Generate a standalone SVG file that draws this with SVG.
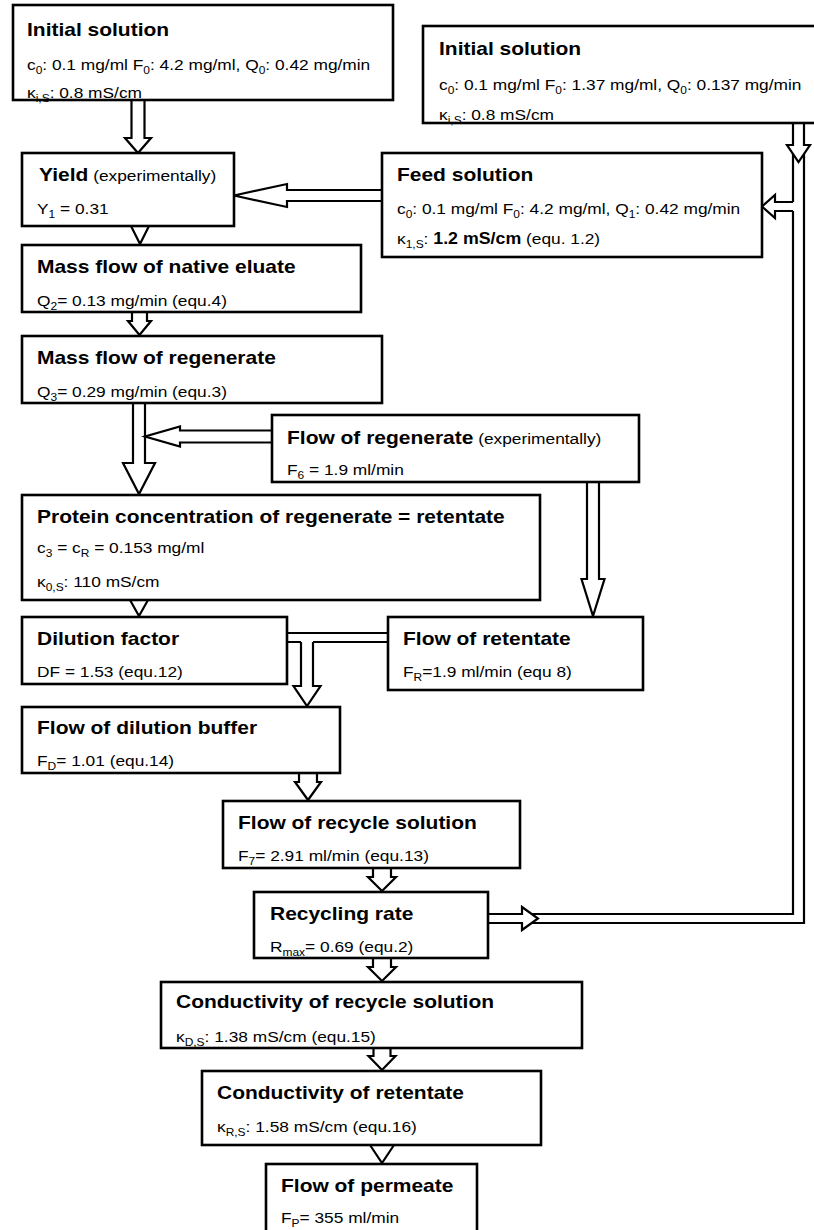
<svg xmlns="http://www.w3.org/2000/svg" width="814" height="1230" viewBox="0 0 814 1230">
<style>
.bx{fill:#fff;stroke:#000;stroke-width:2.6}
.ar{fill:#fff;stroke:#000;stroke-width:2.2;stroke-linejoin:miter}
.ln{fill:none;stroke:#000;stroke-width:2.2;stroke-linejoin:miter}
.h{font-family:"Liberation Sans",Arial,sans-serif;font-weight:bold;font-size:18.4px;fill:#000}
.n{font-family:"Liberation Sans",Arial,sans-serif;font-size:15.2px;fill:#000}
.s{font-size:10.5px}
.b{font-weight:bold;font-size:15.6px}
.r{font-weight:normal;font-size:15.2px}
</style>
<rect width="814" height="1230" fill="#fff"/>
<g id="connectors">
  <!-- Initial -> Yield -->
  <path class="ar" d="M131.5,100 V138 H125 L138,153 L151,138 H144.5 V100"/>
  <!-- Yield -> Mass flow native -->
  <path class="ar" d="M131,226 L140,244 L149,226"/>
  <!-- Feed -> Yield -->
  <path class="ar" d="M382,190 H287 V184 L234,195.5 L287,207 V201 H382"/>
  <!-- native -> regenerate -->
  <path class="ar" d="M132,312 V321 H128 L139.5,335 L151,321 H147 V312"/>
  <!-- regenerate -> protein -->
  <path class="ar" d="M133,403 V463 H123 L139,494 L155,463 H145 V403"/>
  <!-- flow of regenerate -> shaft -->
  <path class="ar" d="M272,430.5 H180 V426.5 L145,436.5 L180,446.5 V442.5 H272"/>
  <!-- flow of regenerate -> flow of retentate -->
  <path class="ar" d="M587,482 V579 H581.5 L593,616 L604.5,579 H599 V482"/>
  <!-- protein -> dilution -->
  <path class="ar" d="M130,600 L139,616 L148,600"/>
  <!-- retentate -> dilution / down -->
  <path class="ln" d="M287,633 H388"/>
  <path class="ln" d="M287,642 H301 M313,642 H388"/>
  <path class="ar" d="M301,642 V686 H293.5 L307,706 L320.5,686 H313 V642"/>
  <!-- dilution buffer -> recycle -->
  <path class="ar" d="M299,773 V782 H295 L308,800 L321,782 H317 V773"/>
  <!-- recycle -> rate -->
  <path class="ar" d="M373,868 V877 H368 L382,891 L396,877 H391 V868"/>
  <!-- rate -> cond recycle -->
  <path class="ar" d="M373,958 V967 H368 L382,981 L396,967 H391 V958"/>
  <!-- cond recycle -> cond retentate -->
  <path class="ar" d="M373.5,1048 V1056 H368.5 L382,1070 L395.5,1056 H390.5 V1048"/>
  <!-- cond retentate -> permeate -->
  <path class="ar" d="M370,1145 L382,1163 L394,1145"/>
  <!-- right column -->
  <path class="ln" d="M793,150 V202 M793,211 V914 H530"/>
  <path class="ln" d="M804,150 V923 H530"/>
  <path class="ar" d="M793,123 V145 H787 L798.5,162 L810,145 H804 V123"/>
  <path class="ar" d="M793,202 H775 V195 L762,206.5 L775,218 V211 H793"/>
  <path class="ar" d="M488,914 H522 V907 L538,918.5 L522,930 V923 H488"/>
</g>
<g id="n1">
  <rect class="bx" x="13" y="5" width="380" height="95"/>
  <text class="h" transform="translate(27,36) scale(1.14,1)">Initial solution</text>
  <text class="n" transform="translate(27,70) scale(1.14,1)">c<tspan class="s" dy="4">0</tspan><tspan dy="-4">: 0.1 mg/ml F</tspan><tspan class="s" dy="4">0</tspan><tspan dy="-4">: 4.2 mg/ml, Q</tspan><tspan class="s" dy="4">0</tspan><tspan dy="-4">: 0.42 mg/min</tspan></text>
  <text class="n" transform="translate(27,98) scale(1.14,1)">κ<tspan class="s" dy="4">i,S</tspan><tspan dy="-4">: 0.8 mS/cm</tspan></text>
</g>
<g id="n2">
  <rect class="bx" x="423" y="26" width="400" height="97"/>
  <text class="h" transform="translate(439,55) scale(1.14,1)">Initial solution</text>
  <text class="n" transform="translate(439,90) scale(1.14,1)">c<tspan class="s" dy="4">0</tspan><tspan dy="-4">: 0.1 mg/ml F</tspan><tspan class="s" dy="4">0</tspan><tspan dy="-4">: 1.37 mg/ml, Q</tspan><tspan class="s" dy="4">0</tspan><tspan dy="-4">: 0.137 mg/min</tspan></text>
  <text class="n" transform="translate(439,120) scale(1.14,1)">κ<tspan class="s" dy="4">i,S</tspan><tspan dy="-4">: 0.8 mS/cm</tspan></text>
</g>
<g id="n3">
  <rect class="bx" x="22" y="153" width="212" height="73"/>
  <text class="h" transform="translate(39,181) scale(1.14,1)">Yield<tspan class="r"> (experimentally)</tspan></text>
  <text class="n" transform="translate(37,214) scale(1.14,1)">Y<tspan class="s" dy="4">1</tspan><tspan dy="-4"> = 0.31</tspan></text>
</g>
<g id="n4">
  <rect class="bx" x="382" y="153" width="380" height="104"/>
  <text class="h" transform="translate(397,181) scale(1.14,1)">Feed solution</text>
  <text class="n" transform="translate(397,214) scale(1.14,1)">c<tspan class="s" dy="4">0</tspan><tspan dy="-4">: 0.1 mg/ml F</tspan><tspan class="s" dy="4">0</tspan><tspan dy="-4">: 4.2 mg/ml, Q</tspan><tspan class="s" dy="4">1</tspan><tspan dy="-4">: 0.42 mg/min</tspan></text>
  <text class="n" transform="translate(397,244) scale(1.14,1)">κ<tspan class="s" dy="4">1,S</tspan><tspan dy="-4">: </tspan><tspan class="b">1.2 mS/cm</tspan> (equ. 1.2)</text>
</g>
<g id="n5">
  <rect class="bx" x="22" y="245" width="339" height="67"/>
  <text class="h" transform="translate(37,273) scale(1.14,1)">Mass flow of native eluate</text>
  <text class="n" transform="translate(37,306) scale(1.14,1)">Q<tspan class="s" dy="4">2</tspan><tspan dy="-4">= 0.13 mg/min (equ.4)</tspan></text>
</g>
<g id="n6">
  <rect class="bx" x="22" y="336" width="360" height="67"/>
  <text class="h" transform="translate(37,364) scale(1.14,1)">Mass flow of regenerate</text>
  <text class="n" transform="translate(37,397) scale(1.14,1)">Q<tspan class="s" dy="4">3</tspan><tspan dy="-4">= 0.29 mg/min (equ.3)</tspan></text>
</g>
<g id="n7">
  <rect class="bx" x="272" y="415" width="367" height="67"/>
  <text class="h" transform="translate(287,444) scale(1.14,1)">Flow of regenerate<tspan class="r"> (experimentally)</tspan></text>
  <text class="n" transform="translate(287,475) scale(1.14,1)">F<tspan class="s" dy="4">6</tspan><tspan dy="-4"> = 1.9 ml/min</tspan></text>
</g>
<g id="n8">
  <rect class="bx" x="22" y="495" width="518" height="105"/>
  <text class="h" transform="translate(37,523) scale(1.14,1)">Protein concentration of regenerate = retentate</text>
  <text class="n" transform="translate(37,553) scale(1.14,1)">c<tspan class="s" dy="4">3</tspan><tspan dy="-4"> = c</tspan><tspan class="s" dy="4">R</tspan><tspan dy="-4"> = 0.153 mg/ml</tspan></text>
  <text class="n" transform="translate(37,587) scale(1.14,1)">κ<tspan class="s" dy="4">0,S</tspan><tspan dy="-4">: 110 mS/cm</tspan></text>
</g>
<g id="n9">
  <rect class="bx" x="22" y="617" width="265" height="67"/>
  <text class="h" transform="translate(37,645) scale(1.14,1)">Dilution factor</text>
  <text class="n" transform="translate(37,677) scale(1.14,1)">DF = 1.53 (equ.12)</text>
</g>
<g id="n10">
  <rect class="bx" x="388" y="617" width="255" height="73"/>
  <text class="h" transform="translate(403,645) scale(1.14,1)">Flow of retentate</text>
  <text class="n" transform="translate(403,677) scale(1.14,1)">F<tspan class="s" dy="4">R</tspan><tspan dy="-4">=1.9 ml/min (equ 8)</tspan></text>
</g>
<g id="n11">
  <rect class="bx" x="22" y="707" width="318" height="66"/>
  <text class="h" transform="translate(37,734) scale(1.14,1)">Flow of dilution buffer</text>
  <text class="n" transform="translate(37,766) scale(1.14,1)">F<tspan class="s" dy="4">D</tspan><tspan dy="-4">= 1.01 (equ.14)</tspan></text>
</g>
<g id="n12">
  <rect class="bx" x="223" y="801" width="297" height="67"/>
  <text class="h" transform="translate(238,829) scale(1.14,1)">Flow of recycle solution</text>
  <text class="n" transform="translate(238,861) scale(1.14,1)">F<tspan class="s" dy="4">7</tspan><tspan dy="-4">= 2.91 ml/min (equ.13)</tspan></text>
</g>
<g id="n13">
  <rect class="bx" x="254" y="892" width="234" height="66"/>
  <text class="h" transform="translate(270,920) scale(1.14,1)">Recycling rate</text>
  <text class="n" transform="translate(270,952) scale(1.14,1)">R<tspan class="s" dy="4">max</tspan><tspan dy="-4">= 0.69 (equ.2)</tspan></text>
</g>
<g id="n14">
  <rect class="bx" x="161" y="982" width="421" height="66"/>
  <text class="h" transform="translate(176,1008) scale(1.14,1)">Conductivity of recycle solution</text>
  <text class="n" transform="translate(176,1042) scale(1.14,1)">κ<tspan class="s" dy="4">D,S</tspan><tspan dy="-4">: 1.38 mS/cm (equ.15)</tspan></text>
</g>
<g id="n15">
  <rect class="bx" x="202" y="1071" width="339" height="74"/>
  <text class="h" transform="translate(217,1099) scale(1.14,1)">Conductivity of retentate</text>
  <text class="n" transform="translate(217,1132) scale(1.14,1)">κ<tspan class="s" dy="4">R,S</tspan><tspan dy="-4">: 1.58 mS/cm (equ.16)</tspan></text>
</g>
<g id="n16">
  <rect class="bx" x="266" y="1164" width="211" height="80"/>
  <text class="h" transform="translate(281,1192) scale(1.14,1)">Flow of permeate</text>
  <text class="n" transform="translate(281,1223) scale(1.14,1)">F<tspan class="s" dy="4">P</tspan><tspan dy="-4">= 355 ml/min</tspan></text>
</g>
</svg>
